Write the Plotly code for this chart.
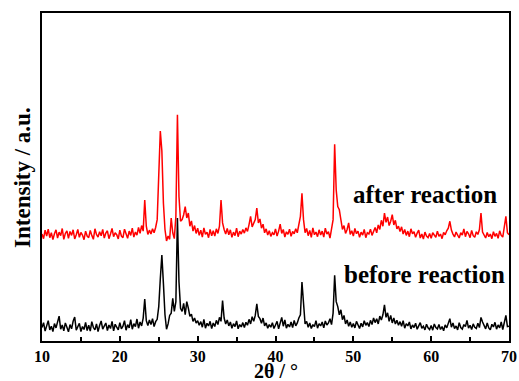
import numpy as np
import plotly.graph_objects as go

# 2-theta grid (degrees), 10 to 70 in 0.2 steps
two_theta = np.round(np.arange(10.0, 70.0001, 0.2), 1)

before_reaction = [
    4.1, 5.6, 3.0, 4.8, 6.2, 3.4, 4.5, 2.9, 5.3, 4.0,
    5.8, 7.6, 3.6, 4.9, 3.1, 5.5, 4.2, 2.8, 5.0, 3.7,
    6.0, 7.3, 3.3, 4.6, 5.4, 2.9, 4.4, 3.5, 5.7, 3.2,
    4.8, 3.0, 5.9, 4.1, 3.4, 5.2, 2.9, 4.7, 6.1, 3.6,
    4.4, 5.5, 3.2, 4.9, 3.8, 6.0, 3.1, 5.1, 4.2, 3.4,
    5.6, 3.7, 4.5, 6.2, 3.3, 5.0, 4.0, 6.5, 3.6, 5.3,
    4.4, 6.7, 3.9, 5.8, 4.6, 7.0, 12.8, 6.2, 4.7, 6.4,
    5.0, 6.8, 4.4, 5.9, 6.6, 10.5, 19.0, 26.2, 17.5, 8.0,
    3.6, 5.2, 7.8, 8.5, 13.0, 9.0, 12.0, 37.5, 18.0, 10.0,
    9.0, 11.5, 8.0, 12.0, 10.0, 7.5, 8.2, 6.0, 7.0, 5.5,
    6.2, 4.8, 5.9, 4.2, 6.6, 3.9, 5.4, 4.6, 6.0, 3.8,
    5.5, 4.4, 6.3, 5.0, 7.2, 6.0, 12.3, 7.0, 5.2, 6.4,
    4.6, 5.8, 3.9, 5.3, 4.4, 6.1, 3.7, 5.0, 4.3, 5.6,
    4.1, 5.7, 4.8, 6.6, 5.2, 7.4, 6.0, 7.8, 11.3, 7.5,
    6.8, 5.4, 7.0, 4.6, 5.5, 3.9, 5.0, 4.2, 5.6, 3.8,
    4.9, 6.0, 3.7, 5.2, 7.2, 4.5, 6.4, 3.9, 5.1, 4.3,
    5.8, 4.1, 6.3, 4.6, 5.5, 7.0, 8.0, 18.0, 10.0, 5.2,
    6.0, 4.2, 5.5, 3.8, 5.0, 4.4, 6.2, 3.9, 5.3, 4.6,
    5.8, 4.0, 6.1, 4.9, 5.5, 6.8, 5.0, 8.5, 20.0, 12.0,
    10.5, 8.0, 9.5, 6.5, 7.8, 5.2, 6.4, 4.5, 5.8, 4.2,
    5.3, 4.0, 6.0, 4.6, 3.8, 5.4, 4.3, 6.2, 4.8, 5.6,
    4.4, 6.3, 5.0, 7.0, 5.6, 6.8, 5.2, 7.6, 6.4, 8.0,
    11.0, 7.2, 8.6, 6.0, 7.8, 5.5, 7.0, 5.2, 6.3, 4.8,
    5.9, 4.5, 6.2, 3.9, 5.3, 4.6, 5.8, 3.7, 4.9, 4.1,
    5.4, 3.6, 4.8, 5.6, 3.9, 4.5, 3.4, 5.1, 4.0, 3.5,
    4.7, 3.3, 5.2, 4.1, 3.7, 5.0, 3.5, 4.4, 3.1, 4.9,
    4.0, 5.3, 6.8, 4.2, 5.5, 3.8, 4.6, 3.4, 5.6, 4.1,
    3.6, 5.0, 4.4, 6.3, 3.9, 4.8, 3.5, 5.2, 4.2, 3.8,
    5.4, 4.1, 7.2, 5.8, 4.6, 3.7, 5.5, 4.0, 3.4, 5.1,
    4.3, 5.7, 3.6, 4.9, 4.0, 5.8, 3.5, 6.0, 7.8, 4.4,
    4.5,
]

after_reaction = [
    4.6, 3.2, 5.8, 4.0, 6.1, 3.5, 5.0, 2.9, 4.7, 5.9,
    3.4, 5.2, 4.1, 6.3, 3.0, 4.8, 5.6, 3.3, 5.4, 4.2,
    5.9, 3.1, 4.4, 6.0, 3.6, 5.1, 4.3, 2.9, 5.5, 4.0,
    3.5, 5.7, 4.2, 3.0, 6.2, 4.5, 3.7, 5.3, 4.1, 6.0,
    3.4, 4.9, 5.6, 3.2, 4.6, 6.3, 3.8, 5.0, 4.4, 3.1,
    5.8, 4.0, 3.5, 6.1, 4.7, 3.3, 5.5, 4.2, 6.4, 3.7,
    5.2, 4.3, 6.6, 4.8, 7.2, 5.5, 15.0, 7.0, 4.5, 5.8,
    4.6, 6.2, 5.0, 6.6, 9.0, 22.0, 36.0, 30.0, 14.0, 6.0,
    2.5, 4.0, 3.0, 9.5, 5.0, 3.2, 10.0, 41.0, 16.0, 8.5,
    9.0, 10.5, 13.0, 9.5, 11.0, 7.0, 8.6, 5.5, 7.2, 4.8,
    6.4, 4.2, 5.8, 3.7, 6.5, 4.5, 5.2, 3.5, 6.0, 4.1,
    5.6, 4.0, 6.2, 4.8, 7.0, 15.0, 8.0, 6.0, 4.6, 6.3,
    4.4, 5.9, 3.6, 5.2, 4.1, 6.4, 3.8, 5.5, 4.6, 6.0,
    4.9, 6.5, 5.4, 7.5, 10.0, 6.8, 8.0, 9.0, 12.5, 8.0,
    9.2, 6.4, 7.6, 5.0, 6.2, 4.3, 5.6, 3.9, 5.0, 4.4,
    6.2, 4.0, 5.5, 7.6, 4.8, 6.0, 3.7, 5.3, 4.5, 6.1,
    3.9, 5.4, 4.7, 6.2, 5.0, 7.8, 10.0, 17.0, 9.0, 5.0,
    6.3, 4.1, 5.7, 3.6, 6.5, 4.4, 5.2, 3.8, 5.9, 4.3,
    5.5, 3.7, 6.4, 4.6, 5.3, 3.4, 5.8, 9.0, 32.0, 18.0,
    13.0, 12.0, 9.0, 6.0, 7.2, 4.8, 6.0, 8.0, 4.5, 5.6,
    4.0, 6.3, 4.7, 5.5, 3.6, 5.2, 4.3, 6.0, 3.5, 5.0,
    4.6, 6.1, 4.2, 5.8, 6.6, 5.0, 7.4, 6.0, 8.8, 7.0,
    11.0, 8.2, 9.8, 7.2, 8.5, 10.5, 7.4, 8.8, 6.2, 7.0,
    5.4, 6.8, 4.6, 6.0, 4.2, 5.5, 3.8, 6.2, 4.7, 5.3,
    3.6, 4.9, 5.8, 3.4, 4.6, 3.1, 5.2, 4.0, 3.5, 4.8,
    3.3, 5.0, 4.2, 3.6, 5.5, 3.9, 4.6, 3.2, 5.1, 4.4,
    5.6, 6.4, 8.5, 5.8, 4.6, 3.7, 5.2, 4.0, 3.4, 5.0,
    4.3, 6.2, 3.8, 5.4, 4.7, 3.5, 5.7, 4.1, 3.6, 5.3,
    4.5, 6.0, 11.0, 5.2, 4.0, 3.4, 5.1, 3.8, 4.6, 3.2,
    5.3, 3.9, 4.8, 3.3, 5.6, 4.2, 3.7, 6.5, 10.0, 5.0,
    4.4,
]

after_offset = 28.0  # vertical stacking offset of the upper pattern

x_ticks = [10, 20, 30, 40, 50, 60, 70]
x_tick_labels = ["<b>%d</b>" % v for v in x_ticks]

FONT = "Liberation Serif"
BOLD = dict(family=FONT, color="black", weight="bold")

fig = go.Figure()
# red (after) drawn first so the black pattern sits on top, as in the original
fig.add_trace(go.Scatter(
    x=two_theta, y=[v + after_offset for v in after_reaction], mode="lines",
    line=dict(color="#ff0000", width=1.5), showlegend=False))
fig.add_trace(go.Scatter(
    x=two_theta, y=before_reaction, mode="lines",
    line=dict(color="#000000", width=1.5), showlegend=False))

fig.update_layout(
    width=519, height=381, autosize=False, showlegend=False,
    margin=dict(l=42, r=10, t=13, b=40, pad=0),
    paper_bgcolor="white", plot_bgcolor="white",
    font=dict(family=FONT, color="black"),
    xaxis=dict(
        range=[10, 70], showgrid=False, zeroline=False, automargin=False,
        showline=True, linecolor="black", linewidth=2, mirror=True,
        ticks="inside", ticklen=5, tickwidth=1.5, tickcolor="black",
        tickvals=x_ticks, ticktext=x_tick_labels,
        tickfont=dict(BOLD, size=16),
        minor=dict(ticks="inside", dtick=5, ticklen=4, tickwidth=1.5, tickcolor="black"),
    ),
    yaxis=dict(
        range=[0, 100], showgrid=False, zeroline=False, automargin=False,
        showline=True, linecolor="black", linewidth=2, mirror=True,
        showticklabels=False, ticks="",
    ),
    annotations=[
        dict(text="<b>after reaction</b>", x=59.2, y=44.6, xref="x", yref="y",
             xanchor="center", yanchor="middle",
             showarrow=False, font=dict(BOLD, size=25)),
        dict(text="<b>before reaction</b>", x=59.1, y=20.4, xref="x", yref="y",
             xanchor="center", yanchor="middle",
             showarrow=False, font=dict(BOLD, size=25)),
        dict(text="<b>2θ / °</b>", x=0.501, y=-0.09, xref="paper", yref="paper",
             xanchor="center", yanchor="middle",
             showarrow=False, font=dict(BOLD, size=20)),
        dict(text="<b>Intensity / a.u.</b>", x=-0.043, y=0.5, xref="paper", yref="paper",
             xanchor="center", yanchor="middle",
             textangle=-90, showarrow=False, font=dict(BOLD, size=23)),
    ],
)

fig.write_html("out.html")
